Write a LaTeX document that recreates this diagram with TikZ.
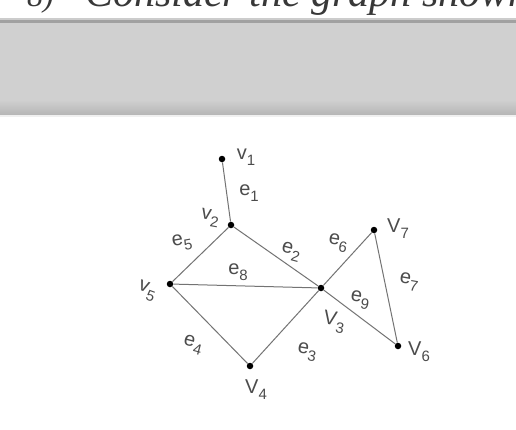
\documentclass[tikz,border=0pt]{standalone}
\usepackage{fontspec}
\setmainfont{Liberation Serif}
\newfontfamily\handfont{Liberation Sans}
\newcommand\hl[2]{#1\raisebox{-0.3em}{\fontsize{15}{15}\selectfont #2}}
\begin{document}
\begin{tikzpicture}[x=1pt,y=-1pt,
  vtx/.style={circle,fill=black,inner sep=0pt,minimum size=6.5pt},
  edge/.style={draw=black!55,line width=1pt},
  lbl/.style={font=\handfont\fontsize{20}{20}\selectfont,text=black!70,inner sep=0pt},
  title/.style={anchor=base west,inner sep=0pt,text=black!78,font=\itshape\fontsize{42}{42}\selectfont}]
\useasboundingbox (0,0) rectangle (516,429);
\fill[white] (0,0) rectangle (516,429);
\begin{scope}
\clip (0,0) rectangle (516,18);
\node[title,font=\itshape\fontsize{32}{32}\selectfont] (num) at (27,6) {8)};
\node[title] (ttl) at (85,6) {Consider the graph shown};
\end{scope}
% gray band
\fill[black!20] (0,18) rectangle (516,20);
\fill[black!37] (0,20) rectangle (516,23);
\fill[black!18.5] (0,23) rectangle (516,100);
\shade[top color=black!18.5,bottom color=black!29] (0,100) rectangle (516,115);
\fill[black!6] (0,115) rectangle (516,117);
% vertices
\node[vtx] (v1) at (222,159) {};
\node[vtx] (v2) at (231,225) {};
\node[vtx] (v5) at (170,284) {};
\node[vtx] (v3) at (321,288) {};
\node[vtx] (v7) at (374,230) {};
\node[vtx] (v6) at (398,346) {};
\node[vtx] (v4) at (250,366) {};
% edges
\draw[edge] (v1) -- (v2);
\draw[edge] (v2) -- (v3);
\draw[edge] (v3) -- (v4);
\draw[edge] (v4) -- (v5);
\draw[edge] (v5) -- (v2);
\draw[edge] (v3) -- (v7);
\draw[edge] (v7) -- (v6);
\draw[edge] (v5) -- (v3);
\draw[edge] (v3) -- (v6);
% labels
\node[lbl] (lv1) at (246,157) {\hl{v}{1}};
\node[lbl] (le1) at (249,193) {\hl{e}{1}};
\node[lbl,rotate=-10] (lv2) at (210,218) {\hl{v}{2}};
\node[lbl,rotate=10] (le5) at (182,243) {\hl{e}{5}};
\node[lbl,rotate=-15] (le2) at (291,252) {\hl{e}{2}};
\node[lbl] (le8) at (238,272) {\hl{e}{8}};
\node[lbl,rotate=-10] (le6) at (338,243) {\hl{e}{6}};
\node[lbl] (lv7) at (398,229) {\hl{V}{7}};
\node[lbl,rotate=-10] (le7) at (409,282) {\hl{e}{7}};
\node[lbl,rotate=-10] (le9) at (360,300) {\hl{e}{9}};
\node[lbl,rotate=-10] (lv3) at (334,322) {\hl{V}{3}};
\node[lbl] (lv6) at (419,352) {\hl{V}{6}};
\node[lbl,rotate=-10] (le3) at (307,352) {\hl{e}{3}};
\node[lbl,rotate=-15] (le4) at (193,345) {\hl{e}{4}};
\node[lbl] (lv4) at (256,390) {\hl{V}{4}};
\node[lbl,rotate=-20] (lv5) at (147,291) {\hl{v}{5}};
\end{tikzpicture}
\end{document}
